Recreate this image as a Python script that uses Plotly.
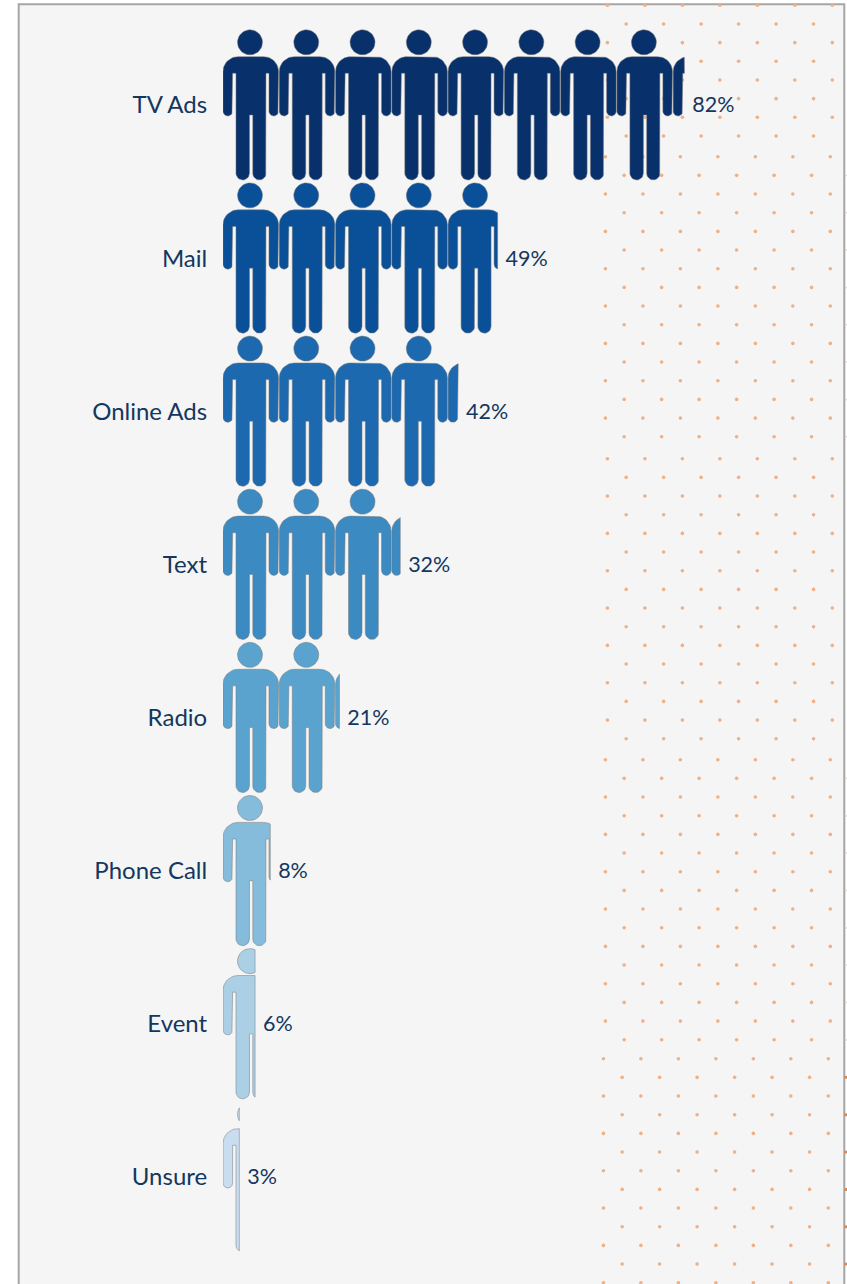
import math
import plotly.graph_objects as go

# ---- data ----
categories = ["TV Ads", "Mail", "Online Ads", "Text", "Radio", "Phone Call", "Event", "Unsure"]
fill_values = [82, 48.8, 41.8, 31.5, 20.7, 8.4, 5.7, 2.9]
row_colors = ["#08306b", "#0a5098", "#1d69b0", "#3c8ac2", "#5ba3cf", "#85bbdb", "#abd0e6", "#c9ddf0"]
percent_per_person = 10

# ---- chart geometry ----
W, H = 847, 1284
LEFT = 222.7          # px of value 0
PX_PER_PCT = 5.63
ROW_TOP = 105.0       # px of first row centre
ROW_PITCH = 153.14
INK = "#14375e"


def xv(px):
    return (px - LEFT) / PX_PER_PCT


def yv(px):
    return (px - ROW_TOP) / ROW_PITCH


def arc(cx, cy, r, a0, a1, n=12):
    return [(cx + r * math.cos(math.radians(a0 + (a1 - a0) * i / n)),
             cy + r * math.sin(math.radians(a0 + (a1 - a0) * i / n))) for i in range(n + 1)]


# person glyph in local px (x from left of the person, y from row centre, y down)
PW = 55.6
TOP, ARM_END, FOOT = -48.3, 11.0, 75.0
ARM_W = 9.6
T0, T1 = 13.0, 43.0
G0, G1 = 26.5, 29.8
AG_TOP, LG_TOP = -31.7, 10.0
SH = 15.0
body = []
body += arc(SH, TOP + SH, SH, 180, 270)
body += arc(PW - SH, TOP + SH, SH, 270, 360)
body += arc(PW - ARM_W / 2, ARM_END - ARM_W / 2, ARM_W / 2, 0, 180)
body += [(PW - ARM_W - 0.0, AG_TOP), (T1, AG_TOP)]
lw = T1 - G1
body += arc(T1 - lw / 2, FOOT - lw / 2, lw / 2, 0, 180)
body += [(G1, LG_TOP), (G0, LG_TOP)]
lw2 = G0 - T0
body += arc(T0 + lw2 / 2, FOOT - lw2 / 2, lw2 / 2, 0, 180)
body += [(T0, AG_TOP), (ARM_W, AG_TOP)]
body += arc(ARM_W / 2, ARM_END - ARM_W / 2, ARM_W / 2, 0, 180)
head = arc(27.0, -62.7, 12.5, 0, 360, 40)


def clip_right(poly, xmax):
    out = []
    for i, p in enumerate(poly):
        q = poly[(i + 1) % len(poly)]
        if p[0] <= xmax:
            out.append(p)
        if (p[0] <= xmax) != (q[0] <= xmax):
            t = (xmax - p[0]) / (q[0] - p[0])
            out.append((xmax, p[1] + t * (q[1] - p[1])))
    return out


fig = go.Figure()

# background dots of the panel: (first x, first y, number of rows) of each band
dot_bands = [(607.3, 5.3, 8), (605.3, 156.7, 16), (607.3, 458.7, 16), (605.3, 759.7, 16), (603.3, 1058.7, 13)]
DX, DY = 37.5, 18.67
dx, dy, ex, ey = [], [], [], []
for bx, by, rows in dot_bands:
    for r in range(rows):
        odd = r % 2
        for k in range(7):
            px = bx + odd * DX / 2 + k * DX
            py = by + r * DY
            if px > 845.5:
                if px < 850:
                    ex.append(xv(px - 1)); ey.append(yv(py))
                continue
            dx.append(xv(px)); dy.append(yv(py))
fig.add_trace(go.Scatter(x=dx, y=dy, mode="markers", hoverinfo="skip", showlegend=False,
                         marker=dict(size=3.6, color="#efb085", line=dict(width=0))))
fig.add_trace(go.Scatter(x=ex, y=ey, mode="markers", hoverinfo="skip", showlegend=False,
                         marker=dict(size=3, color="#ed7d31", line=dict(width=0))))

# pictogram rows
for i, (cat, val, col) in enumerate(zip(categories, fill_values, row_colors)):
    xs, ys = [], []
    n = 0
    while n * percent_per_person < val:
        local_max = (val - n * percent_per_person) * PX_PER_PCT
        for shape in (body, head):
            pts = clip_right(shape, local_max)
            if len(pts) < 3:
                continue
            xs += [n * percent_per_person + p[0] / PX_PER_PCT for p in pts] + [n * percent_per_person + pts[0][0] / PX_PER_PCT, None]
            ys += [i + p[1] / ROW_PITCH for p in pts] + [i + pts[0][1] / ROW_PITCH, None]
        n += 1
    fig.add_trace(go.Scatter(x=xs, y=ys, mode="lines", fill="toself", fillcolor=col, name=cat,
                             line=dict(color="rgba(120,120,120,0.5)", width=1), hoverinfo="skip",
                             showlegend=False))

# value labels
fig.add_trace(go.Scatter(x=[v + 1.4 for v in fill_values], y=[i + 2 / ROW_PITCH for i in range(len(categories))],
                         mode="text",
                         text=[f"{v:.0f}%" for v in fill_values], textposition="middle right",
                         textfont=dict(family="Lato", size=21.5, color=INK),
                         hoverinfo="skip", showlegend=False))

plot_w = W - LEFT
fig.update_layout(
    width=W, height=H, autosize=False,
    margin=dict(l=LEFT, r=0, t=0, b=0, pad=0),
    paper_bgcolor="white", plot_bgcolor="rgba(0,0,0,0)",
    font=dict(family="Lato", size=24, color=INK),
    xaxis=dict(range=[0, plot_w / PX_PER_PCT], visible=False, fixedrange=True),
    yaxis=dict(range=[yv(H), yv(0)], tickmode="array", tickvals=list(range(len(categories))),
               ticktext=categories, ticks="outside", ticklen=10, tickcolor="rgba(0,0,0,0)",
               showline=False, showgrid=False, zeroline=False, fixedrange=True,
               tickfont=dict(family="Lato", size=24, color=INK)),
    shapes=[dict(type="rect", xref="paper", yref="paper", layer="below",
                 x0=(18.3 - LEFT) / plot_w, x1=(844.3 - LEFT) / plot_w,
                 y0=-0.1, y1=1 - 4.3 / H,
                 fillcolor="#f5f5f5", line=dict(color="#a6a6a6", width=2))],
)

fig.write_html("out.html", config={"displayModeBar": False},
               post_script="document.body.style.margin='0';document.documentElement.style.overflow='hidden';")
